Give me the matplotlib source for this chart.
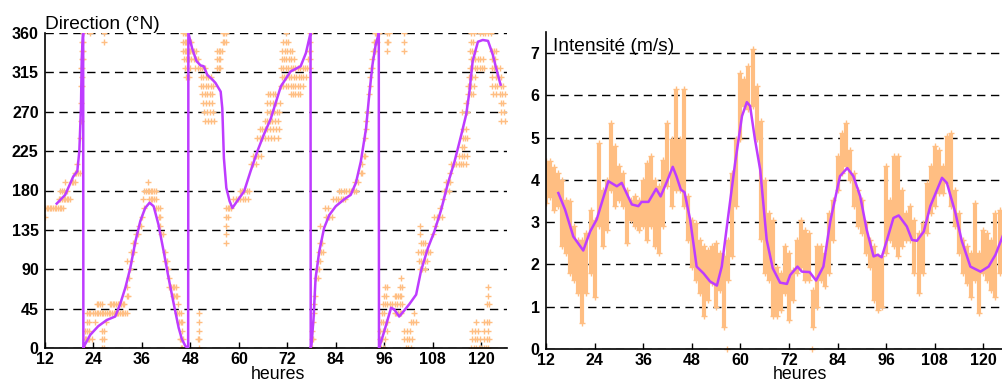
import matplotlib
matplotlib.use("Agg")
import matplotlib.pyplot as plt

plt.rcParams['font.family'] = ['Liberation Sans', 'DejaVu Sans']

ORANGE = '#FFBE82'
PURPLE = '#BE3CFF'

# ---------------- Direction (°N) ----------------
# smoothed direction (purple line); wrap-arounds 360 -> 0 kept as near-vertical steps
dir_line_hour = [14.9, 17.0, 19.0, 20.0, 20.5, 20.9, 21.1, 21.35, 21.45, 21.5, 21.9, 23.2, 25.2,
                 27.3, 29.4, 30.6, 31.9, 33.1, 34.4, 35.6, 36.8, 37.9, 38.9, 40.1, 41.4, 42.6,
                 43.9, 45.1, 45.9, 46.8, 47.45, 47.5, 48.4, 49.5, 50.5, 51.3, 52.2, 53.4, 54.2,
                 55.5, 55.9, 56.3, 56.9, 57.7, 58.4, 59.6, 61.3, 62.9, 64.6, 66.2, 67.9, 70.4,
                 72.8, 75.3, 76.6, 77.6, 77.75, 77.8, 78.0, 78.5, 79.0, 79.9, 81.1, 82.4, 84.0,
                 86.1, 87.7, 89.0, 90.2, 91.5, 92.3, 93.1, 93.9, 94.5, 94.65, 94.7, 95.0, 96.0,
                 97.7, 98.5, 99.7, 100.8, 102.2, 103.9, 105.1, 106.8, 108.4, 110.1, 111.7, 113.4,
                 115.1, 116.3, 117.1, 117.9, 119.2, 120.4, 121.7, 122.9, 123.7, 124.8]
dir_line_deg = [165, 175, 196, 202, 225, 274, 331, 355, 360, 0, 4, 15, 25,
                32, 36, 50, 69, 91, 122, 145, 160, 166, 162, 141, 110, 80,
                50, 23, 10, 2, 0, 360, 343, 328, 323, 322, 312, 307, 303,
                293, 274, 217, 183, 168, 160, 168, 179, 202, 225, 244, 262, 299,
                316, 322, 337, 357, 360, 0, 4, 34, 80, 110, 137, 152, 162,
                170, 175, 189, 213, 251, 290, 324, 347, 357, 360, 0, 4, 19,
                46, 44, 36, 42, 50, 61, 88, 114, 133, 158, 187, 213,
                244, 267, 293, 328, 350, 352, 351, 335, 320, 301]

# raw direction observations (orange crosses)
dir_obs_hour = [
    12.0,
    12.0, 12.4, 12.8, 13.2, 13.6, 14.0, 14.4, 14.8, 15.2, 15.6, 16.0, 16.4,
    15.4, 15.8, 16.2, 16.6, 17.0, 17.4, 17.8, 18.2,
    15.8, 16.2, 16.8, 17.4,
    17.0, 18.6, 19.0, 19.4,
    19.4, 19.8, 20.2, 20.6,
    20.0, 20.6, 20.8, 20.9,
    21.0, 21.2, 21.1, 21.0, 21.2, 21.1, 21.3, 21.1, 21.3,
    21.2, 21.4, 26.5, 21.3, 23.2, 26.5,
    21.6, 22.0, 26.2, 26.6, 45.6, 46.0, 50.1,
    21.8, 22.2, 22.6, 23.0, 23.6, 26.0, 26.6, 45.4, 45.8, 46.2, 50.0, 50.2,
    22.0, 22.4, 22.8, 26.0, 26.6, 46.0, 50.1,
    22.4, 22.8, 24.4, 27.0, 45.2, 45.6, 46.0, 50.1,
    22.4, 22.8, 23.2, 24.0, 24.4, 24.8, 25.2, 25.6, 26.0, 26.4, 26.8, 27.4, 27.8, 28.2,
    28.6, 29.0, 29.4, 29.8, 30.2, 30.6, 31.0, 31.4, 31.8, 32.2, 44.8, 45.2, 45.6, 50.1,
    24.8, 25.2, 25.6, 26.0, 28.0, 28.4, 28.8, 29.2, 29.6, 30.0, 30.4, 30.8, 31.2, 31.6, 45.0,
    32.2, 32.6, 43.6, 44.0, 44.4, 44.8,
    32.4, 42.8, 43.2, 43.6, 44.0, 44.4,
    32.8, 42.6, 33.0, 42.4,
    32.4, 33.2, 41.8, 42.2,
    33.2, 34.0, 41.6,
    33.8, 34.4,
    34.6, 35.0, 40.8, 41.2,
    35.4, 35.8, 40.6,
    36.0, 40.2, 40.6,
    36.4, 39.6, 40.0, 40.4,
    36.2, 37.8, 38.2, 38.6, 39.0, 39.4,
    36.6, 37.0, 37.4, 37.8, 38.2, 38.6, 39.0, 39.6,
    37.6,
    46.2, 46.6, 47.0, 56.0, 56.4, 56.8,
    46.2, 46.6, 47.0, 47.4, 47.8, 48.2, 56.0, 56.4, 56.8,
    46.2, 46.6, 47.0, 47.6, 48.0, 48.4, 48.8, 49.4, 54.6, 55.0, 55.4, 55.8,
    46.4, 47.0, 47.6, 48.2, 48.8, 49.4, 50.0, 54.6, 55.0, 55.4,
    46.6, 47.2, 47.8, 49.2, 49.8, 50.4, 51.0, 51.6, 54.6, 55.0, 55.4,
    47.0, 47.6, 50.6, 51.2, 51.8, 52.4, 53.0,
    50.6, 51.2, 51.8, 52.4, 53.0, 53.6,
    51.0, 51.6, 52.2, 52.8, 53.4,
    51.2, 51.8, 52.6, 53.4,
    51.4, 52.0, 52.8, 53.6,
    51.6, 52.4, 53.2, 53.8,
    56.8, 57.2, 57.6, 58.0,
    56.8, 57.2, 56.8, 56.8, 56.8,
    58.6, 59.2, 59.8, 60.4, 61.0, 61.6, 62.2,
    60.2, 60.8, 61.4, 62.0, 62.6,
    63.0, 63.6, 64.2,
    63.6, 64.2, 64.8, 65.4,
    64.6, 65.2, 65.8, 66.4, 67.2, 68.0, 68.8, 69.6,
    65.2, 65.8, 66.4, 67.0, 67.6, 68.4, 69.2, 70.0,
    66.4, 67.0, 67.6, 68.2, 69.0, 69.8,
    67.0, 67.6, 68.2, 68.8, 69.4, 70.0,
    67.0, 67.6, 68.4, 69.2, 70.2,
    67.2, 67.8, 68.4, 69.0, 72.8, 73.4, 74.0, 74.6, 75.2,
    70.4, 71.0, 71.6, 72.2, 72.8, 73.4, 74.0, 74.6, 75.2, 75.8,
    70.6, 71.2, 71.8, 72.4, 73.0, 73.6, 74.2, 74.8, 75.4, 76.0, 76.6,
    70.4, 71.0, 71.6, 72.2, 72.8, 73.4, 74.0, 74.6, 75.2, 75.8, 76.4, 77.0, 77.6,
    70.6, 71.2, 71.8, 72.4, 73.0, 73.6, 77.2, 77.6,
    70.8, 71.4, 72.0, 72.6, 73.2, 77.4, 77.6,
    71.0, 71.6, 72.2, 77.5,
    71.6, 77.6,
    77.9, 78.1, 78.0, 78.3, 78.2, 78.4, 78.5, 78.7, 78.8,
    79.1, 79.5, 79.3, 79.8, 79.6, 80.0, 79.8, 80.4, 80.8, 80.2, 80.6, 80.2,
    81.6, 82.0, 82.4, 83.0, 81.4, 82.2,
    83.4, 84.0, 84.6, 85.2, 85.8, 86.4,
    84.8, 85.4, 86.0, 86.6, 87.2, 87.8, 88.4, 89.0,
    89.6, 88.8, 90.2, 90.6, 90.6, 90.9, 91.2,
    91.3, 91.4, 91.6, 91.8, 92.2, 92.4, 92.6, 92.8, 93.0, 93.0,
    93.2, 93.6, 93.8, 93.4, 93.8, 94.2,
    93.6, 94.0, 94.4, 94.8, 96.6, 97.2, 101.0,
    96.6, 97.0, 101.0, 96.6, 101.0,
    94.8, 95.2, 96.0, 101.4, 102.0, 102.6,
    94.9, 95.4, 96.2, 101.0, 101.6, 102.2, 102.8,
    95.0, 95.6, 96.6, 101.0, 101.6, 102.4,
    95.2, 95.8, 96.4, 96.8, 102.6, 103.2, 103.8,
    95.4, 96.0, 98.6, 99.0, 99.4, 99.8, 100.2, 103.4,
    95.6, 96.2, 96.8, 97.4, 98.0, 98.6, 99.2, 99.8, 100.4,
    96.0, 96.4, 98.6, 99.0, 99.4, 99.8, 100.2,
    96.2, 96.6, 100.0, 100.4,
    100.2,
    104.8, 105.4, 106.0,
    104.6, 105.2, 106.0, 106.6,
    104.4, 105.0, 105.6, 106.2, 106.8, 107.4,
    105.0, 105.6, 106.2,
    104.8, 108.0, 104.8, 108.6,
    108.4, 109.0, 109.6, 110.2,
    109.8, 110.6,
    110.8, 111.4, 112.0,
    111.2, 111.8, 112.4,
    112.4,
    112.6, 113.2, 113.8, 114.4, 115.0, 115.6, 116.2,
    114.6, 115.2, 115.8, 116.4,
    115.2, 115.8,
    115.4, 116.0, 116.6,
    115.6, 116.2,
    115.2, 116.6, 116.2,
    116.8, 117.4, 118.0,
    116.8, 117.6, 118.2,
    117.0, 117.8, 118.4,
    117.2, 117.8, 118.4, 119.0, 119.6, 120.2, 120.6,
    117.4, 118.0, 118.6, 119.2, 119.8, 120.4,
    117.2, 117.8, 118.4,
    117.4, 118.0,
    117.6, 118.2, 119.8, 120.4, 121.0, 121.6, 122.4,
    122.6, 123.2, 123.8,
    122.8, 123.4,
    122.6, 123.2, 124.0, 124.6,
    122.8, 123.6, 124.2, 124.8,
    122.6, 123.4, 124.0, 124.8, 125.4,
    123.0, 123.8, 124.6, 125.2, 125.8,
    124.8, 125.4, 124.8, 125.6, 125.0, 126.0,
    117.6, 118.2, 118.8, 119.4, 120.0, 120.6, 121.2, 121.8,
    117.8, 118.4, 119.0, 119.6, 120.6, 121.4, 122.0,
    117.8, 118.6, 119.2, 120.8, 121.6,
    118.8, 120.8, 121.4, 122.0,
    121.4, 122.0, 121.6, 121.8,
]
dir_obs_deg = [
    150,
    160, 160, 160, 160, 160, 160, 160, 160, 160, 160, 160, 160,
    170, 170, 170, 170, 170, 170, 170, 170,
    180, 180, 180, 180,
    190, 190, 190, 190,
    200, 200, 200, 200,
    210, 240, 260, 280,
    300, 300, 310, 320, 320, 330, 330, 340, 340,
    350, 350, 350, 360, 360, 360,
    0, 0, 0, 0, 0, 0, 0,
    10, 10, 10, 10, 10, 10, 10, 10, 10, 10, 10, 10,
    20, 20, 20, 20, 20, 20, 20,
    30, 30, 30, 30, 30, 30, 30, 30,
    40, 40, 40, 40, 40, 40, 40, 40, 40, 40, 40, 40, 40, 40,
    40, 40, 40, 40, 40, 40, 40, 40, 40, 40, 40, 40, 40, 40,
    50, 50, 50, 50, 50, 50, 50, 50, 50, 50, 50, 50, 50, 50, 50,
    60, 60, 60, 60, 60, 60,
    70, 70, 70, 70, 70, 70,
    80, 80, 90, 90,
    100, 100, 100, 100,
    110, 110, 110,
    120, 120,
    130, 130, 130, 130,
    140, 140, 140,
    150, 150, 150,
    160, 160, 160, 160,
    170, 170, 170, 170, 170, 170,
    180, 180, 180, 180, 180, 180, 180, 180,
    190,
    360, 360, 360, 360, 360, 360,
    350, 350, 350, 350, 350, 350, 350, 350, 350,
    340, 340, 340, 340, 340, 340, 340, 340, 340, 340, 340, 340,
    330, 330, 330, 330, 330, 330, 330, 330, 330, 330,
    320, 320, 320, 320, 320, 320, 320, 320, 320, 320, 320,
    310, 310, 310, 310, 310, 310, 310,
    300, 300, 300, 300, 300, 300,
    290, 290, 290, 290, 290,
    280, 280, 280, 280,
    270, 270, 270, 270,
    260, 260, 260, 260,
    160, 160, 160, 160,
    150, 150, 140, 130, 120,
    170, 170, 170, 170, 170, 170, 170,
    180, 180, 180, 180, 180,
    210, 210, 210,
    220, 220, 220, 220,
    240, 240, 240, 240, 240, 240, 240, 240,
    250, 250, 250, 250, 250, 250, 250, 250,
    260, 260, 260, 260, 260, 260,
    270, 270, 270, 270, 270, 270,
    280, 280, 280, 280, 280,
    290, 290, 290, 290, 290, 290, 290, 290, 290,
    300, 300, 300, 300, 300, 300, 300, 300, 300, 300,
    310, 310, 310, 310, 310, 310, 310, 310, 310, 310, 310,
    320, 320, 320, 320, 320, 320, 320, 320, 320, 320, 320, 320, 320,
    330, 330, 330, 330, 330, 330, 330, 330,
    340, 340, 340, 340, 340, 340, 340,
    350, 350, 350, 350,
    360, 360,
    0, 0, 10, 10, 20, 30, 40, 50, 60,
    80, 80, 90, 90, 100, 100, 110, 110, 110, 120, 120, 140,
    150, 150, 150, 150, 160, 160,
    170, 170, 170, 170, 170, 170,
    180, 180, 180, 180, 180, 180, 180, 180,
    190, 190, 200, 200, 210, 220, 220,
    240, 250, 260, 270, 290, 300, 310, 320, 320, 330,
    340, 340, 340, 350, 350, 350,
    360, 360, 360, 360, 360, 360, 360,
    350, 350, 350, 340, 340,
    0, 0, 0, 0, 0, 0,
    10, 10, 10, 10, 10, 10, 10,
    20, 20, 20, 20, 20, 20,
    30, 30, 30, 30, 30, 30, 30,
    40, 40, 40, 40, 40, 40, 40, 40,
    50, 50, 50, 50, 50, 50, 50, 50, 50,
    60, 60, 60, 60, 60, 60, 60,
    70, 70, 70, 70,
    80,
    90, 90, 90,
    100, 100, 100, 100,
    110, 110, 110, 110, 110, 110,
    120, 120, 120,
    130, 130, 140, 140,
    150, 150, 150, 150,
    160, 170,
    180, 180, 180,
    190, 190, 190,
    200,
    210, 210, 210, 210, 210, 210, 210,
    220, 220, 220, 220,
    230, 230,
    240, 240, 240,
    250, 250,
    270, 270, 280,
    290, 290, 290,
    300, 300, 300,
    310, 310, 310,
    320, 320, 320, 320, 320, 320, 320,
    330, 330, 330, 330, 330, 330,
    340, 340, 340,
    350, 350,
    360, 360, 360, 360, 360, 360, 360,
    340, 340, 340,
    330, 330,
    320, 320, 320, 320,
    310, 310, 310, 310,
    300, 300, 300, 300, 300,
    290, 290, 290, 290, 290,
    280, 280, 270, 270, 260, 260,
    0, 0, 0, 0, 0, 0, 0, 0,
    10, 10, 10, 10, 10, 10, 10,
    20, 20, 20, 20, 20,
    30, 30, 30, 30,
    50, 50, 60, 70,
]

# ---------------- Intensité (m/s) ----------------
int_line_hour = [15.05, 16.7, 18.75, 21.2, 22.9, 24.5, 27.4, 29.5, 30.7, 33.2, 34.8, 35.6,
                 37.3, 39.2, 40.3, 41.9, 43.3, 44.2, 45.3, 46.2, 47.6, 49.2, 50.9, 52.5,
                 54.2, 55.4, 57.1, 58.7, 60.4, 61.6, 62.4, 63.6, 64.9, 66.5, 68.0, 69.8,
                 71.5, 72.3, 74.1, 75.2, 77.1, 78.7, 80.5, 82.2, 84.6, 86.4, 87.9, 89.6,
                 91.2, 92.9, 93.9, 94.9, 96.2, 97.8, 99.1, 101.1, 102.4, 103.6, 105.3,
                 106.9, 109.8, 111.0, 113.1, 114.7, 116.8, 119.3, 121.3, 123.0, 124.9]
int_line_val = [3.69, 3.30, 2.66, 2.33, 2.78, 3.06, 3.97, 3.85, 3.93, 3.42, 3.38, 3.48,
                3.48, 3.79, 3.61, 3.97, 4.31, 4.09, 3.77, 3.71, 3.06, 1.95, 1.79, 1.60,
                1.50, 1.95, 3.22, 4.40, 5.51, 5.84, 5.75, 4.96, 4.24, 2.58, 1.91, 1.57,
                1.54, 1.75, 1.95, 1.83, 1.82, 1.62, 1.95, 3.02, 4.09, 4.28, 4.09, 3.61,
                2.82, 2.19, 2.23, 2.17, 2.58, 3.10, 3.16, 2.90, 2.58, 2.56, 2.78,
                3.38, 4.05, 3.93, 3.22, 2.55, 1.95, 1.83, 1.95, 2.23, 2.70]

# hourly spread of the raw speed observations (low / high)
int_obs_hour = list(range(12, 126))
int_obs_low = [3.45, 3.6, 3.3, 3.38, 2.43, 2.27, 1.8, 1.64, 1.32, 0.61, 1.32, 1.8, 1.24, 2.9,
               2.43, 2.82, 3.77, 3.38, 3.53, 3.38, 2.5, 3.06, 2.9, 2.82, 2.9, 2.58, 2.9, 2.43,
               2.27, 2.9, 3.85, 3.38, 3.77, 3.77, 3.38, 2.58, 1.95, 1.64, 1.32, 0.77, 1.16,
               1.56, 1.0, 1.4, 0.53, 1.64, 2.19, 3.38, 4.96, 5.75, 5.67, 5.75, 4.96, 2.6,
               1.8, 1.64, 0.77, 0.77, 0.92, 1.32, 0.69, 1.16, 1.8, 1.95, 1.64, 1.64, 0.53,
               1.0, 1.64, 1.48, 1.8, 2.58, 3.77, 4.17, 4.32, 4.0, 3.38, 2.9, 2.74, 2.27,
               1.95, 1.16, 0.92, 1.0, 2.27, 2.58, 2.43, 2.19, 2.43, 2.58, 2.58, 1.8, 1.32,
               1.8, 2.74, 3.22, 3.38, 3.69, 3.69, 3.93, 3.38, 2.9, 2.27, 1.8, 1.56, 1.24,
               1.64, 0.84, 1.8, 1.64, 1.4, 1.24, 1.8, 2.19]
int_obs_high = [4.44, 4.44, 4.3, 4.17, 4.0, 3.53, 3.5, 2.9, 2.58, 2.58, 2.74, 3.3, 3.06, 4.88,
                3.77, 4.0, 5.35, 4.8, 4.32, 4.17, 3.77, 3.53, 3.61, 3.53, 4.0, 4.4, 4.56, 4.0,
                3.85, 4.48, 5.35, 4.96, 6.14, 4.96, 6.14, 3.61, 3.06, 2.98, 2.58, 2.43, 2.35,
                2.43, 2.5, 2.27, 2.19, 2.58, 4.17, 4.96, 6.54, 6.38, 6.7, 7.09, 6.22, 5.4,
                4.0, 3.22, 3.06, 1.95, 1.8, 2.43, 2.27, 1.87, 2.58, 3.06, 2.82, 2.74, 1.4,
                2.43, 2.43, 2.27, 3.22, 3.53, 4.56, 5.1, 5.35, 4.72, 4.17, 3.77, 3.53, 2.98,
                2.58, 2.43, 2.19, 2.19, 4.32, 3.53, 4.56, 4.56, 3.77, 3.22, 3.38, 3.06, 2.74,
                2.98, 3.93, 4.32, 4.8, 4.72, 4.32, 5.04, 5.1, 3.77, 3.22, 2.58, 2.43, 2.27,
                3.45, 2.27, 2.82, 2.74, 2.58, 3.22, 3.3, 3.22]
# isolated calm readings
int_calm_hour = [56.7, 77.7]
int_calm_val = [0.0, 0.0]

hour_ticks = [12, 24, 36, 48, 60, 72, 84, 96, 108, 120]
dir_ticks = [0, 45, 90, 135, 180, 225, 270, 315, 360]
int_ticks = [0, 1, 2, 3, 4, 5, 6, 7]

W, H = 1003, 381
fig = plt.figure(figsize=(W / 100, H / 100), dpi=100)
ax1 = fig.add_axes([45 / W, 33 / H, 462 / W, 315 / H])
ax2 = fig.add_axes([546 / W, 32 / H, 460 / W, 317 / H])


def style(ax, yticks):
    ax.set_axisbelow(True)
    ax.yaxis.grid(True, linestyle=(0, (6, 4)), color='black', linewidth=1.0)
    for s in ('top', 'right'):
        ax.spines[s].set_visible(False)
    for s in ('left', 'bottom'):
        ax.spines[s].set_linewidth(1.2)
    ax.set_xticks(hour_ticks)
    ax.set_yticks(yticks)
    ax.tick_params(axis='x', direction='in', length=4, width=1, labelsize=11.5, pad=3)
    ax.tick_params(axis='y', length=0, labelsize=11.5, pad=4.5)
    for lab in ax.get_xticklabels() + ax.get_yticklabels():
        lab.set_fontweight('bold')


# Direction panel
ax1.plot(dir_obs_hour, dir_obs_deg, linestyle='none', marker='+', markersize=5,
         markeredgewidth=1.0, color=ORANGE, zorder=2)
ax1.plot(dir_line_hour, dir_line_deg, color=PURPLE, linewidth=1.8, zorder=3)
ax1.set_xlim(12, 126.4)
ax1.set_ylim(0, 360)
style(ax1, dir_ticks)
ax1.text(0.0, 1.0, 'Direction (°N)', transform=ax1.transAxes, ha='left', va='bottom',
         fontsize=13.8)

# Intensity panel
ax2.vlines(int_obs_hour, int_obs_low, int_obs_high, color=ORANGE, linewidth=3.0, zorder=2)
ax2.plot(int_obs_hour, int_obs_low, linestyle='none', marker='+', markersize=4,
         color=ORANGE, zorder=2)
ax2.plot(int_obs_hour, int_obs_high, linestyle='none', marker='+', markersize=4,
         color=ORANGE, zorder=2)
ax2.plot(int_calm_hour, int_calm_val, linestyle='none', marker='+', markersize=4,
         color=ORANGE, clip_on=False, zorder=2)
ax2.plot(int_line_hour, int_line_val, color=PURPLE, linewidth=1.8, zorder=3)
ax2.set_xlim(12, 125.6)
ax2.set_ylim(0, 7.5)
style(ax2, int_ticks)
ax2.text(0.015, 0.981, 'Intensité (m/s)', transform=ax2.transAxes, ha='left', va='top',
         fontsize=13.8)

fig.text(278 / W, 2 / H, 'heures', ha='center', va='baseline', fontsize=12.8)
fig.text(800 / W, 2 / H, 'heures', ha='center', va='baseline', fontsize=12.8)

fig.savefig('out.png', dpi=100)
